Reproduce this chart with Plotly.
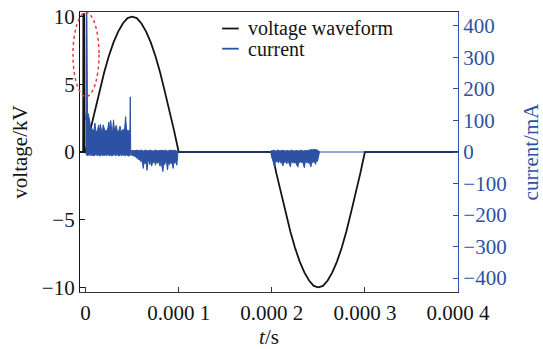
import plotly.graph_objects as go

# ---- data (time in microseconds) ----
# voltage waveform, kV
volt_t = [-6, -2.6, -2.4, -1.4, -1.2, 0,
          5, 10, 15, 20, 25, 30, 35, 40, 45, 50, 55, 60, 65, 70, 75, 80, 85, 90, 95, 100,
          200, 205, 210, 215, 220, 225, 230, 235, 240, 245, 250, 255, 260, 265, 270, 275, 280, 285, 290, 295, 300,
          400]
volt_kv = [0, 0, 10.2, 10.2, 0, 0,
           1.6, 3.1, 4.5, 5.9, 7.1, 8.1, 8.9, 9.5, 9.9, 10.0, 9.9, 9.5, 8.9, 8.1, 7.1, 5.9, 4.5, 3.1, 1.6, 0,
           0, -1.6, -3.1, -4.5, -5.9, -7.1, -8.1, -8.9, -9.5, -9.9, -10.0, -9.9, -9.5, -8.9, -8.1, -7.1, -5.9, -4.5, -3.1, -1.6, 0,
           0]

# current, mA: upper / lower envelopes of each discharge burst
pos_t = [0, 0.6, 1.0, 1.4, 2, 3, 4, 5, 6, 7, 8, 9, 10, 11, 12, 13, 14, 15, 16, 17, 18, 19, 20,
         21, 22, 23, 24, 25, 26, 27, 28, 29, 30, 31, 32, 33, 34, 35, 36, 37, 38, 39, 40,
         41, 42, 43, 44, 45, 46, 47, 47.6, 48, 48.5, 49]
pos_hi = [100, 130, 440, 440, 125, 120, 105, 85, 68, 74, 66, 70, 92, 68, 64, 72, 86, 66, 88, 68, 65, 86, 68,
          64, 70, 66, 78, 95, 68, 100, 70, 66, 102, 68, 78, 84, 68, 64, 70, 82, 68, 64, 72,
          68, 78, 112, 72, 68, 66, 70, 68, 175, 66, 5]
pos_lo = [-5, -8, -10, -10, -12, -9, -11, -8, -12, -10,
          -9, -13, -10, -8, -11, -12, -9, -10, -13, -8,
          -11, -10, -12, -9, -10, -11, -8, -12, -10, -9,
          -13, -11, -10, -8, -12, -10, -9, -11, -13, -10,
          -8, -12, -9, -11, -10, -12, -9, -10, -13, -11,
          -10, -11, -8, -5]

neg1_t = [49, 50, 51, 52, 53, 54, 55, 56, 57, 58, 59, 60, 61, 62, 63, 64, 65, 66, 67, 68, 69,
          70, 71, 72, 73, 74, 75, 76, 77, 78, 79, 80, 81, 82, 83, 84, 85, 86, 87, 88, 89,
          90, 91, 92, 93, 94, 95, 96, 97, 98, 99]
neg1_hi = [5, 4, 6, 3, 5, 4, 6, 5, 3, 4,
           6, 5, 4, 3, 5, 6, 4, 5, 3, 4,
           5, 6, 4, 3, 5, 4, 6, 5, 4, 3,
           5, 4, 6, 5, 3, 4, 5, 6, 4, 3,
           5, 4, 6, 5, 3, 4, 5, 6, 4, 3,
           2]
neg1_lo = [-5, -12, -10, -14, -12, -15, -20, -18, -25, -22,
           -30, -24, -35, -52, -28, -38, -30, -58, -32, -26,
           -40, -28, -45, -30, -35, -26, -42, -30, -36, -28,
           -34, -45, -30, -38, -62, -34, -40, -28, -36, -57,
           -32, -40, -30, -38, -33, -52, -30, -36, -28, -42,
           -10]

neg2_t = [199, 200, 201, 202, 203, 204, 205, 206, 207, 208, 209, 210, 211, 212, 213, 214, 215,
          216, 217, 218, 219, 220, 221, 222, 223, 224, 225, 226, 227, 228, 229, 230, 231, 232,
          233, 234, 235, 236, 237, 238, 239, 240, 241, 242, 243, 244, 245, 246, 247, 248, 249,
          250, 251]
neg2_hi = [3, 5, 4, 6, 5, 3, 4, 6, 5, 4,
           3, 5, 6, 4, 5, 3, 4, 6, 5, 4,
           3, 5, 6, 4, 5, 3, 4, 6, 5, 4,
           3, 5, 6, 4, 5, 3, 4, 6, 5, 4,
           5, 6, 5, 7, 8, 7, 8, 9, 8, 7,
           6, 4, 2]
neg2_lo = [-4, -18, -25, -30, -48, -28, -32, -26, -35, -30,
           -28, -36, -30, -44, -30, -34, -27, -38, -30, -32,
           -36, -47, -30, -34, -28, -36, -30, -33, -40, -48,
           -30, -35, -28, -34, -30, -38, -50, -30, -34, -28,
           -36, -30, -33, -47, -30, -35, -28, -32, -39, -26,
           -30, -20, -4]

base_t = [0, 400]
base_ma = [0, 0]

x_ticks = [0, 100, 200, 300, 400]
x_tick_text = ["0", "0.000 1", "0.000 2", "0.000 3", "0.000 4"]
y_ticks = [-10, -5, 0, 5, 10]
y2_ticks = [-400, -300, -200, -100, 0, 100, 200, 300, 400]

US = 1e-6
BLUE = "#2d52a3"
BLACK = "#141414"
FONT = "Liberation Serif"


def sec(ts):
    return [t * US for t in ts]


fig = go.Figure()

# current baseline (under the voltage trace)
fig.add_trace(go.Scatter(x=sec(base_t), y=base_ma, yaxis="y2", mode="lines",
                         line=dict(color=BLUE, width=1), showlegend=False, hoverinfo="skip"))

# voltage waveform
fig.add_trace(go.Scatter(x=sec(volt_t), y=volt_kv, mode="lines",
                         line=dict(color=BLACK, width=1.8), name="voltage waveform",
                         showlegend=False))

# current bursts drawn as filled envelopes
for ts, hi, lo in [(pos_t, pos_hi, pos_lo), (neg1_t, neg1_hi, neg1_lo), (neg2_t, neg2_hi, neg2_lo)]:
    xs = sec(ts) + sec(ts[::-1])
    ys = hi + lo[::-1]
    fig.add_trace(go.Scatter(x=xs, y=ys, yaxis="y2", mode="lines", fill="toself",
                             fillcolor=BLUE, line=dict(color=BLUE, width=1),
                             name="current", showlegend=False, hoverinfo="skip"))

tick_font = dict(family=FONT, size=21, color=BLACK)

fig.update_layout(
    width=543, height=349,
    margin=dict(l=80, r=85, t=12, b=57),
    paper_bgcolor="white", plot_bgcolor="white",
    font=dict(family=FONT, size=21, color=BLACK),
    xaxis=dict(range=[-6 * US, 400 * US], tickvals=sec(x_ticks), ticktext=x_tick_text,
               ticks="inside", ticklen=5, tickcolor="#333", showgrid=False, zeroline=False,
               showline=True, linecolor="#333", linewidth=1.2, mirror=True,
               tickfont=tick_font, ticklabelstandoff=2, automargin=False,
               title=dict(text="<i>t</i>/s", font=dict(family=FONT, size=21, color=BLACK), standoff=10)),
    yaxis=dict(range=[-10.35, 10.35], tickvals=y_ticks, ticks="inside", ticklen=5,
               tickcolor=BLACK, showgrid=False, zeroline=False, showline=True,
               linecolor=BLACK, linewidth=1.2, tickfont=tick_font, automargin=False,
               title=dict(text="voltage/kV", font=dict(family=FONT, size=21, color=BLACK), standoff=8)),
    yaxis2=dict(range=[-444, 444], tickvals=y2_ticks, overlaying="y", side="right",
                ticks="inside", ticklen=5, tickcolor=BLUE, showgrid=False, zeroline=False,
                showline=True, linecolor=BLUE, linewidth=1.2, automargin=False,
                tickfont=dict(family=FONT, size=21, color=BLUE),
                title=dict(text="current/mA", font=dict(family=FONT, size=21, color=BLUE), standoff=17)),
    showlegend=False,
)

# legend drawn as line samples with labels
legend_items = [("voltage waveform", BLACK, 0.941), ("current", BLUE, 0.869)]
for label, color, yp in legend_items:
    fig.add_shape(type="line", xref="paper", yref="paper", x0=0.376, x1=0.42, y0=yp, y1=yp,
                  line=dict(color=color, width=1.8))
    fig.add_annotation(text=label, xref="paper", yref="paper", x=0.44, y=yp,
                       xanchor="left", yanchor="middle", showarrow=False,
                       font=dict(family=FONT, size=20, color=BLACK))

# dashed ellipse marking the initial discharge spike
fig.add_shape(type="circle", xref="paper", yref="paper",
              x0=-0.0185, x1=0.0503, y0=0.698, y1=0.998,
              line=dict(color="#e0403a", width=1.5, dash="dot"))

fig.write_html("out.html")
